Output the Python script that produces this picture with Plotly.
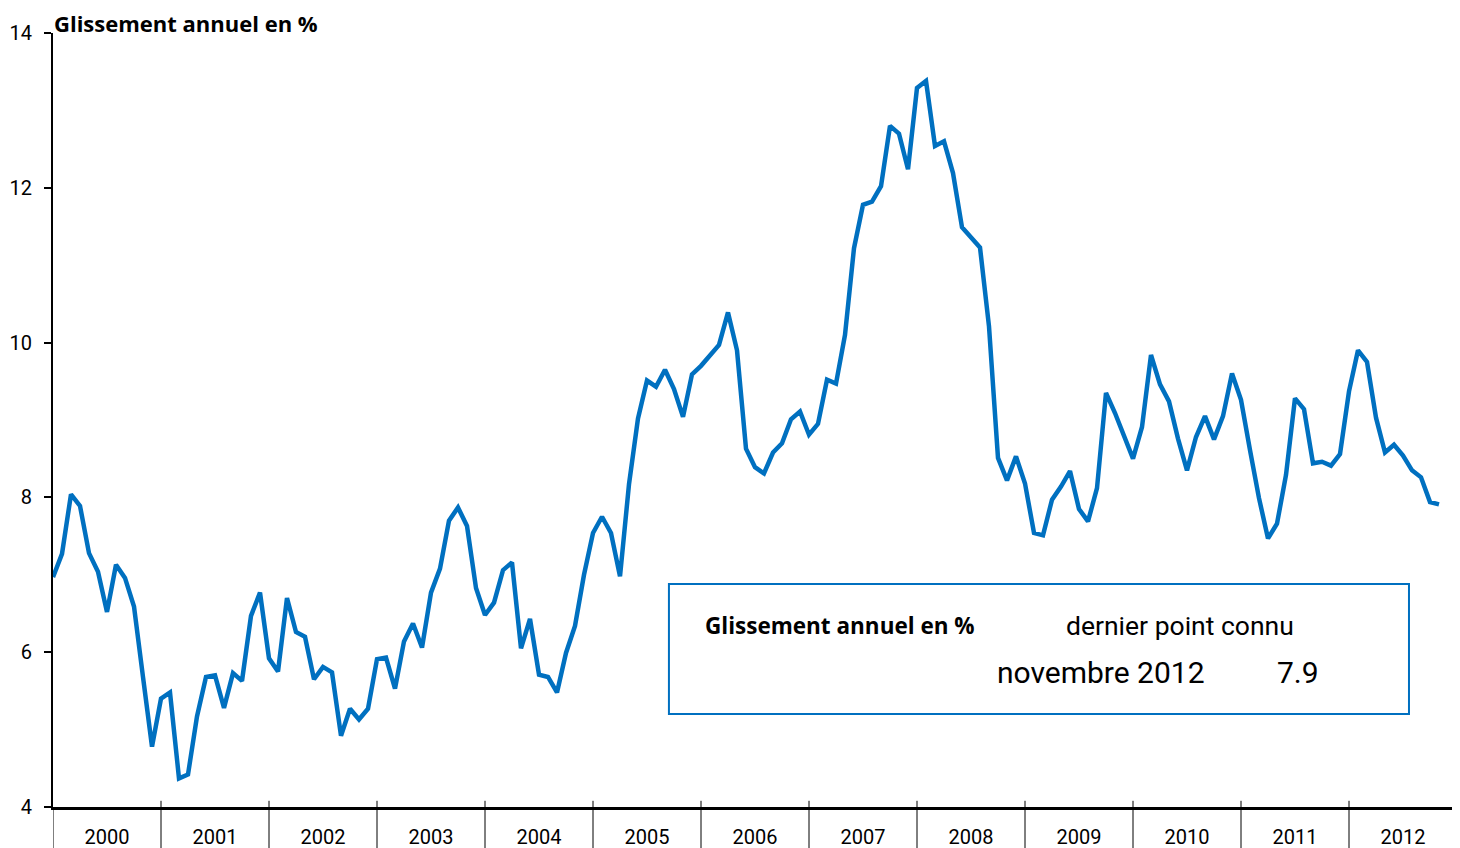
import plotly.graph_objects as go

years = list(range(2000, 2013))
month_names = ["janvier", "février", "mars", "avril", "mai", "juin", "juillet",
               "août", "septembre", "octobre", "novembre", "décembre"]

v2000 = [6.97, 7.27, 8.04, 7.89, 7.28, 7.04, 6.52, 7.13, 6.96, 6.59, 5.68, 4.78]
v2001 = [5.40, 5.48, 4.37, 4.42, 5.17, 5.68, 5.70, 5.28, 5.73, 5.63, 6.47, 6.77]
v2002 = [5.92, 5.75, 6.70, 6.26, 6.20, 5.65, 5.81, 5.74, 4.92, 5.27, 5.13, 5.27]
v2003 = [5.91, 5.93, 5.53, 6.14, 6.37, 6.06, 6.77, 7.08, 7.70, 7.87, 7.63, 6.83]
v2004 = [6.48, 6.64, 7.06, 7.16, 6.05, 6.43, 5.71, 5.68, 5.48, 5.99, 6.34, 7.00]
v2005 = [7.54, 7.75, 7.54, 6.98, 8.17, 9.02, 9.51, 9.43, 9.65, 9.40, 9.04, 9.59]
v2006 = [9.70, 9.84, 9.97, 10.39, 9.90, 8.63, 8.39, 8.31, 8.58, 8.70, 9.01, 9.11]
v2007 = [8.81, 8.95, 9.52, 9.47, 10.10, 11.22, 11.78, 11.82, 12.02, 12.80, 12.70, 12.24]
v2008 = [13.29, 13.38, 12.54, 12.60, 12.19, 11.49, 11.36, 11.23, 10.21, 8.51, 8.22, 8.53]
v2009 = [8.18, 7.54, 7.51, 7.97, 8.14, 8.34, 7.85, 7.69, 8.12, 9.35, 9.09, 8.78]
v2010 = [8.50, 8.91, 9.84, 9.46, 9.24, 8.76, 8.35, 8.78, 9.05, 8.75, 9.05, 9.60]
v2011 = [9.26, 8.61, 7.99, 7.47, 7.66, 8.29, 9.28, 9.14, 8.44, 8.46, 8.41, 8.56]
v2012 = [9.37, 9.90, 9.75, 9.03, 8.58, 8.68, 8.54, 8.35, 8.26, 7.94, 7.91]

values = (v2000 + v2001 + v2002 + v2003 + v2004 + v2005 + v2006 + v2007 +
          v2008 + v2009 + v2010 + v2011 + v2012)
month_index = list(range(len(values)))

y_ticks = [4, 6, 8, 10, 12, 14]
title_text = "Glissement annuel en %"

BLUE = "#0070C0"
FONT = "Roboto, 'Liberation Sans', sans-serif"
BOLD_FONT = "'Open Sans', Roboto, sans-serif"

fig = go.Figure()
fig.add_trace(go.Scatter(
    x=month_index, y=values, mode="lines",
    line=dict(color=BLUE, width=4.5, shape="linear"),
    hoverinfo="skip", showlegend=False,
))

n_months = len(years) * 12
boundaries = [12 * i for i in range(len(years) + 1)]
mids = [12 * i + 6 for i in range(len(years))]

# year separator ticks crossing the x axis
for b in boundaries[1:]:
    fig.add_shape(type="line", xref="x", yref="paper", x0=b, x1=b,
                  y0=-0.06, y1=0.008, line=dict(color="black", width=1))
fig.add_shape(type="line", xref="x", yref="paper", x0=0, x1=0,
              y0=-0.06, y1=0.0, line=dict(color="black", width=1))

# info box
fig.add_shape(type="rect", xref="paper", yref="paper",
              x0=0.4387, x1=0.9658, y0=0.1202, y1=0.2881,
              line=dict(color=BLUE, width=2), fillcolor="white", layer="above")

last_idx = len(values) - 1
last_month = month_names[last_idx % 12]
last_year = years[last_idx // 12]

fig.add_annotation(xref="paper", yref="paper", x=0.463, y=0.234,
                   xanchor="left", yanchor="middle", showarrow=False,
                   text=f"<b>{title_text}</b>",
                   font=dict(family=BOLD_FONT, size=22.5, color="black"))
fig.add_annotation(xref="paper", yref="paper", x=0.8027, y=0.235,
                   xanchor="center", yanchor="middle", showarrow=False,
                   text="dernier point connu",
                   font=dict(family=FONT, size=26.5, color="black"))
fig.add_annotation(xref="paper", yref="paper", x=0.7464, y=0.1744,
                   xanchor="center", yanchor="middle", showarrow=False,
                   text=f"{last_month} {last_year}",
                   font=dict(family=FONT, size=30, color="black"))
fig.add_annotation(xref="paper", yref="paper", x=0.8868, y=0.1744,
                   xanchor="center", yanchor="middle", showarrow=False,
                   text=f"{values[-1]:.1f}",
                   font=dict(family=FONT, size=30, color="black"))

# chart title
fig.add_annotation(xref="paper", yref="paper", x=0.0, y=1.0,
                   xanchor="left", yanchor="middle", yshift=10, showarrow=False,
                   borderpad=0,
                   text=f"<b>{title_text}</b>",
                   font=dict(family=BOLD_FONT, size=22, color="black"))

# page body adds an 8px offset; figure sized so the plot area lands in place
fig.update_layout(
    width=1452, height=840,
    margin=dict(l=45, r=3, t=25, b=41, autoexpand=False),
    paper_bgcolor="white", plot_bgcolor="white",
    font=dict(family=FONT, size=18, color="black"),
    xaxis=dict(
        range=[0, n_months], showgrid=False, zeroline=False, automargin=False,
        showline=True, linecolor="black", linewidth=3,
        tickmode="array", tickvals=mids, ticktext=[str(y) for y in years],
        ticks="", ticklabelstandoff=10,
        tickfont=dict(family=FONT, size=20),
    ),
    yaxis=dict(
        range=[4, 14], showgrid=False, zeroline=False, automargin=False,
        showline=True, linecolor="black", linewidth=2,
        tickmode="array", tickvals=y_ticks,
        ticks="outside", ticklen=7, tickwidth=1.5, tickcolor="black",
        ticklabelstandoff=8,
        tickfont=dict(family=FONT, size=20),
    ),
)

fig.write_html("out.html")
